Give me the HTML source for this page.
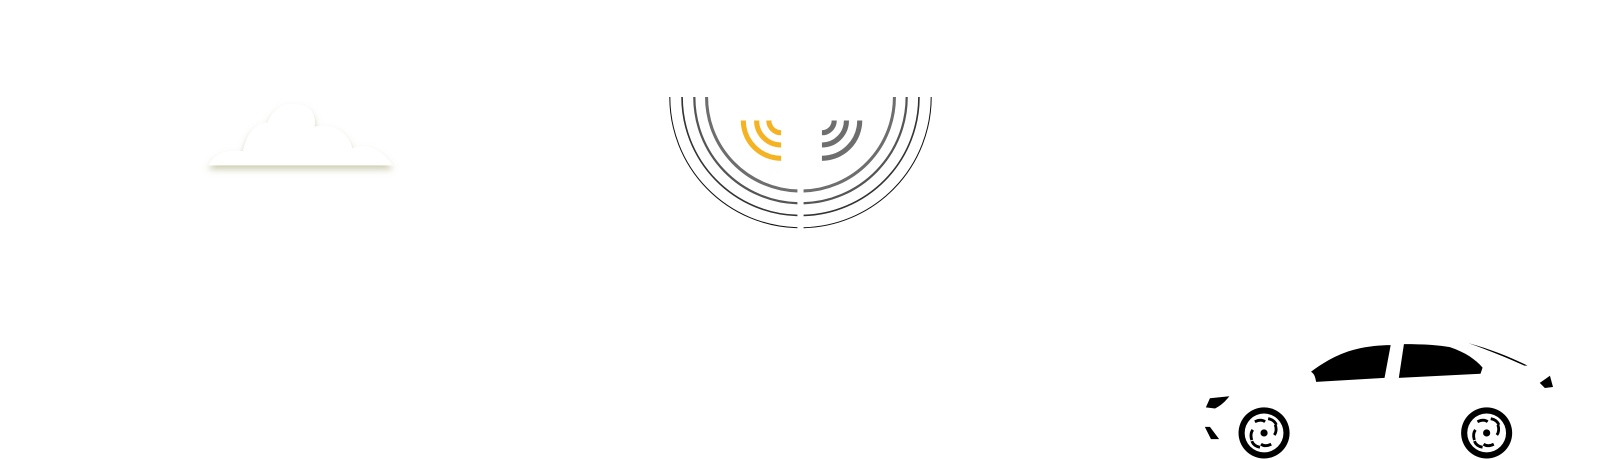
<!DOCTYPE html>
<html><head><style>html,body{margin:0;padding:0;background:#fff;width:1601px;height:459px;overflow:hidden}</style></head>
<body>
<svg width="1601" height="459" viewBox="0 0 1568 449.5" preserveAspectRatio="none" xmlns="http://www.w3.org/2000/svg">
<defs>
<filter id="sh" x="-20%" y="-30%" width="140%" height="170%">
<feGaussianBlur in="SourceAlpha" stdDeviation="3"/>
<feOffset dx="0" dy="4" result="b"/>
<feFlood flood-color="#b8b890" flood-opacity="0.7"/>
<feComposite in2="b" operator="in"/>
<feMerge><feMergeNode/><feMergeNode in="SourceGraphic"/></feMerge>
</filter>
</defs>
<path filter="url(#sh)" fill="#fff" d="M204,162 C210,150 222,146 238,148 C242,128 252,120 262,120 C268,104 282,100 290,102 C305,102 310,114 308,124 C326,120 342,130 345,145 C358,140 372,144 385,162 Z"/>
<g fill="none">
<path d="M656,95 A128,128 0 0 0 781,223" stroke="#111" stroke-width="1"/>
<path d="M787,223 A128,128 0 0 0 912,95" stroke="#111" stroke-width="1"/>
<path d="M668,95 A116,116 0 0 0 781,211" stroke="#333" stroke-width="1.6"/>
<path d="M787,211 A116,116 0 0 0 900,95" stroke="#333" stroke-width="1.6"/>
<path d="M680,95 A104,104 0 0 0 781,199" stroke="#555" stroke-width="2.2"/>
<path d="M787,199 A104,104 0 0 0 888,95" stroke="#555" stroke-width="2.2"/>
<path d="M692,95 A92,92 0 0 0 781,187" stroke="#6e6e6e" stroke-width="3"/>
<path d="M787,187 A92,92 0 0 0 876,95" stroke="#6e6e6e" stroke-width="3"/>
<g stroke="#f5b324" stroke-width="5">
<path d="M753,118 A12,12 0 0 0 765,130"/>
<path d="M741,118 A24,24 0 0 0 765,142"/>
<path d="M728,118 A37,37 0 0 0 765,155"/>
</g>
<g stroke="#6e6e6e" stroke-width="5">
<path d="M817,118 A12,12 0 0 1 805,130"/>
<path d="M829,118 A24,24 0 0 1 805,142"/>
<path d="M842,118 A37,37 0 0 1 805,155"/>
</g>
</g>
<g fill="#000">
<path d="M1284,364 C1300,352 1315,345 1328,342 C1340,339 1352,338 1362,338 L1356,370 L1289,374 C1288,368 1287,366 1284,364 Z"/>
<path d="M1375,337 C1395,337 1410,338 1420,340 C1435,345 1445,352 1452,360 L1450,366 L1370,370 Z"/>
<path d="M1438,336 C1460,342 1480,350 1496,358 L1493,358 C1475,350 1458,343 1438,336 Z"/>
<path d="M1508,375 L1518,368 L1521,379 L1513,380 Z"/>
<path d="M1185,390 L1204,388 C1200,393 1196,397 1190,400 L1181,399 Z"/>
<path d="M1180,418 L1185,418 L1194,430 L1186,430 Z"/>
</g>
<g>
<circle cx="1238" cy="424" r="25" fill="#000"/>
<circle cx="1238" cy="424" r="19" fill="#fff"/>
<circle cx="1238" cy="424" r="3.5" fill="#000"/>
<circle cx="1456" cy="424" r="25" fill="#000"/>
<circle cx="1456" cy="424" r="19" fill="#fff"/>
<circle cx="1456" cy="424" r="3.5" fill="#000"/>
<g stroke="#000" stroke-width="2.8" fill="none">
<path d="M1229,413 q6,-3 10,0 M1249,416 q2,6 -1,10 M1245,435 q-6,3 -10,0 M1226,431 q-2,-6 1,-10 M1242,410 q6,1 8,6 M1234,438 q-6,-1 -8,-6"/>
<path d="M1447,413 q6,-3 10,0 M1467,416 q2,6 -1,10 M1463,435 q-6,3 -10,0 M1444,431 q-2,-6 1,-10 M1460,410 q6,1 8,6 M1452,438 q-6,-1 -8,-6"/>
</g>
</g>
</svg>
</body></html>
